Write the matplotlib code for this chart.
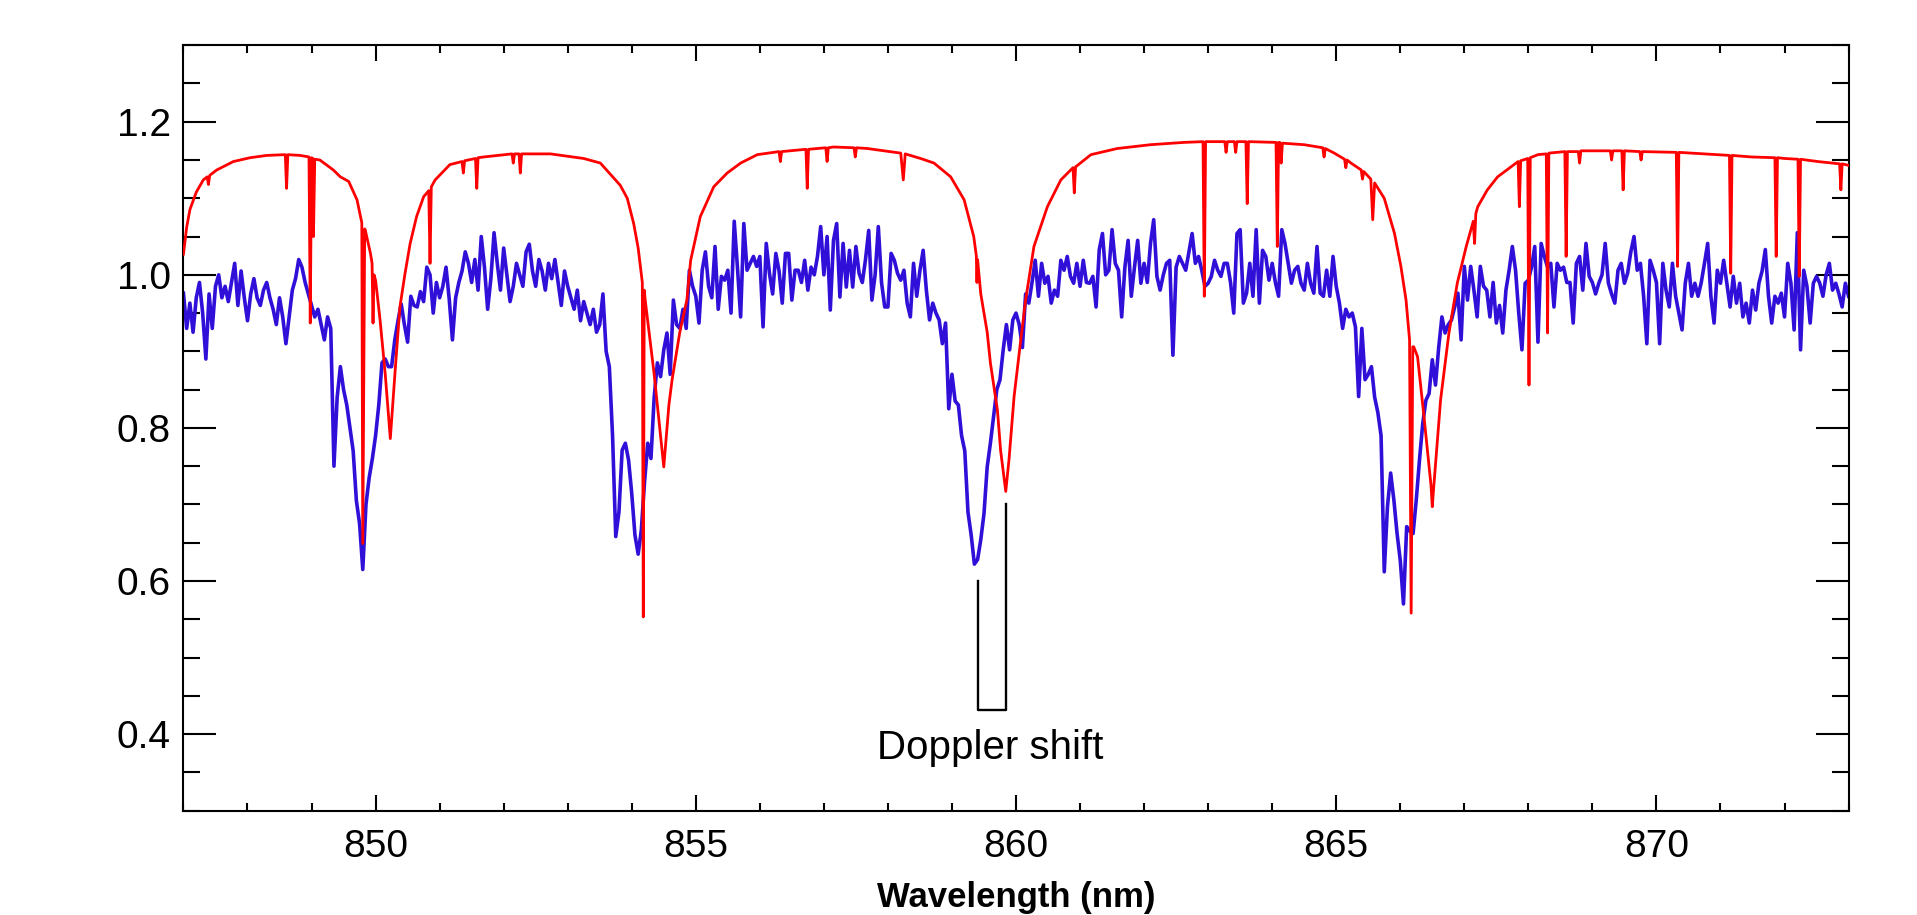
import numpy as np
import matplotlib
matplotlib.use("Agg")
import matplotlib.pyplot as plt
from matplotlib.ticker import MultipleLocator, FormatStrFormatter

# --- Observed spectrum (blue), sampled every 0.05 nm from 847.00 nm ---
blue_start = 847.0
blue_step = 0.05
blue_flux = [
    # 847
    0.976, 0.930, 0.963, 0.925, 0.970, 0.990, 0.950, 0.890, 0.975, 0.930,
    0.985, 1.000, 0.970, 0.985, 0.965, 0.990, 1.015, 0.960, 1.005, 0.970,
    # 848
    0.940, 0.975, 0.995, 0.970, 0.960, 0.980, 0.990, 0.970, 0.955, 0.935,
    0.970, 0.945, 0.910, 0.945, 0.980, 0.995, 1.020, 1.010, 0.990, 0.975,
    # 849
    0.960, 0.945, 0.955, 0.935, 0.915, 0.945, 0.930, 0.750, 0.840, 0.880,
    0.850, 0.830, 0.800, 0.770, 0.705, 0.675, 0.615, 0.700, 0.735, 0.760,
    # 850
    0.790, 0.830, 0.885, 0.890, 0.880, 0.880, 0.915, 0.940, 0.962, 0.935,
    0.912, 0.972, 0.960, 0.958, 0.978, 0.965, 1.010, 1.000, 0.950, 0.990,
    # 851
    0.970, 0.985, 1.010, 0.968, 0.915, 0.970, 0.990, 1.005, 1.030, 1.015,
    0.990, 1.020, 0.980, 1.050, 1.010, 0.955, 0.995, 1.055, 1.015, 0.980,
    # 852
    1.035, 1.000, 0.965, 0.985, 1.015, 1.000, 0.985, 1.030, 1.040, 1.005,
    0.985, 1.020, 1.005, 0.980, 1.015, 0.995, 1.020, 0.990, 0.960, 1.005,
    # 853
    0.985, 0.970, 0.955, 0.980, 0.940, 0.965, 0.950, 0.935, 0.955, 0.925,
    0.935, 0.975, 0.900, 0.880, 0.790, 0.658, 0.690, 0.771, 0.780, 0.758,
    # 854
    0.714, 0.660, 0.635, 0.667, 0.730, 0.780, 0.760, 0.840, 0.885, 0.867,
    0.902, 0.924, 0.870, 0.967, 0.935, 0.930, 0.955, 0.930, 1.006, 0.985,
    # 855
    0.972, 0.937, 1.006, 1.030, 0.985, 0.970, 1.037, 0.955, 0.998, 0.993,
    1.006, 0.950, 1.070, 1.010, 0.945, 1.067, 1.006, 1.015, 1.024, 1.011,
    # 856
    1.024, 0.932, 1.041, 1.002, 0.975, 1.028, 1.005, 0.963, 1.028, 1.028,
    0.967, 1.006, 1.006, 0.990, 1.019, 0.980, 1.010, 1.000, 1.024, 1.063,
    # 857
    1.000, 1.050, 0.954, 1.045, 1.067, 0.971, 1.041, 0.984, 1.032, 0.984,
    1.037, 1.002, 0.990, 1.020, 1.058, 0.967, 1.000, 1.063, 0.990, 0.958,
    # 858
    0.958, 1.028, 1.019, 1.002, 0.993, 1.006, 0.963, 0.945, 1.015, 0.972,
    1.006, 1.032, 0.980, 0.941, 0.963, 0.950, 0.941, 0.910, 0.937, 0.825,
    # 859
    0.870, 0.835, 0.830, 0.790, 0.770, 0.690, 0.660, 0.622, 0.628, 0.654,
    0.688, 0.749, 0.780, 0.815, 0.850, 0.863, 0.902, 0.935, 0.902, 0.941,
    # 860
    0.950, 0.935, 0.905, 0.975, 0.963, 0.990, 1.019, 0.972, 1.015, 0.989,
    0.998, 0.963, 0.980, 0.972, 1.019, 1.006, 1.024, 0.998, 0.989, 1.015,
    # 861
    0.985, 1.019, 0.990, 0.989, 0.998, 0.958, 1.033, 1.054, 1.000, 1.006,
    1.059, 1.015, 1.006, 0.945, 1.010, 1.045, 0.972, 1.010, 1.045, 0.989,
    # 862
    1.015, 0.990, 1.041, 1.072, 0.998, 0.980, 1.000, 1.015, 1.019, 0.895,
    1.010, 1.024, 1.015, 1.006, 1.030, 1.054, 1.015, 1.024, 1.006, 0.985,
    # 863
    0.989, 0.998, 1.019, 1.006, 0.998, 1.015, 1.015, 0.990, 0.950, 1.054,
    1.059, 0.963, 0.976, 1.015, 0.972, 1.059, 0.963, 1.032, 1.024, 0.993,
    # 864
    1.015, 0.990, 0.972, 1.059, 1.041, 1.015, 0.989, 1.006, 1.011, 0.989,
    0.980, 1.015, 0.989, 0.976, 1.037, 0.976, 0.972, 1.006, 0.972, 1.024,
    # 865
    0.985, 0.963, 0.930, 0.955, 0.945, 0.950, 0.932, 0.841, 0.930, 0.863,
    0.870, 0.880, 0.840, 0.820, 0.790, 0.612, 0.697, 0.741, 0.706, 0.662,
    # 866
    0.627, 0.570, 0.671, 0.665, 0.662, 0.706, 0.758, 0.805, 0.836, 0.845,
    0.889, 0.856, 0.905, 0.945, 0.924, 0.935, 0.941, 0.958, 0.976, 0.915,
    # 867
    1.011, 0.967, 1.011, 0.980, 0.945, 1.011, 0.985, 0.980, 0.945, 0.990,
    0.937, 0.960, 0.924, 0.980, 1.006, 1.037, 1.006, 0.950, 0.902, 0.989,
    # 868
    0.993, 1.010, 1.037, 0.912, 1.041, 1.024, 1.010, 1.015, 0.958, 1.015,
    1.006, 1.010, 0.990, 0.990, 0.937, 1.015, 1.024, 0.980, 1.041, 0.998,
    # 869
    0.990, 0.975, 0.989, 1.000, 1.041, 0.989, 0.975, 0.963, 1.006, 1.015,
    0.989, 1.002, 1.030, 1.050, 1.006, 1.015, 0.972, 0.910, 1.019, 1.006,
    # 870
    0.990, 0.910, 1.015, 0.980, 0.958, 1.015, 0.972, 0.950, 0.928, 0.989,
    1.015, 0.972, 0.989, 0.972, 0.990, 1.015, 1.041, 0.972, 0.937, 1.006,
    # 871
    0.989, 1.019, 0.989, 0.958, 0.998, 0.963, 0.989, 0.945, 0.963, 0.937,
    0.980, 0.954, 0.989, 1.005, 1.033, 0.972, 0.937, 0.972, 0.963, 0.976,
    # 872
    0.945, 1.015, 0.989, 0.928, 1.055, 0.902, 1.006, 0.985, 0.937, 0.989,
    0.998, 0.989, 0.972, 1.000, 1.015, 0.980, 0.989, 0.975, 0.958, 0.989,
    # 873
    0.972,
]

# --- Model spectrum (red): knots along the curve, incl. narrow lines ---
red_wave = [
    847.00, 847.05, 847.10, 847.20, 847.31, 847.37, 847.39, 847.41, 847.52, 847.78,
    848.04, 848.30, 848.59, 848.61, 848.63, 848.82, 848.96, 848.98, 849.00, 849.02,
    849.03, 849.05, 849.13, 849.34, 849.45, 849.58, 849.71, 849.785, 849.80, 849.83,
    849.84, 849.92, 849.945, 849.96, 849.975, 850.00, 850.07, 850.15, 850.23, 850.31,
    850.38, 850.46, 850.54, 850.64, 850.75, 850.83, 850.85, 850.87, 850.93, 851.16,
    851.35, 851.37, 851.39, 851.56, 851.58, 851.60, 851.69, 852.13, 852.15, 852.17,
    852.24, 852.26, 852.28, 852.73, 853.25, 853.51, 853.82, 853.93, 854.03, 854.10,
    854.165, 854.18, 854.195, 854.21, 854.35, 854.50, 854.58, 854.63, 854.75, 854.86,
    854.92, 855.07, 855.28, 855.49, 855.70, 855.96, 856.30, 856.32, 856.34, 856.72,
    856.74, 856.76, 857.03, 857.05, 857.07, 857.15, 857.47, 857.49, 857.51, 857.68,
    858.20, 858.24, 858.27, 858.51, 858.72, 858.98, 859.19, 859.34, 859.38, 859.39,
    859.40, 859.45, 859.55, 859.60, 859.71, 859.76, 859.84, 859.89, 859.97, 860.07,
    860.15, 860.28, 860.49, 860.70, 860.89, 860.91, 860.93, 861.17, 861.58, 862.10,
    862.62, 862.92, 862.94, 862.96, 863.26, 863.28, 863.30, 863.41, 863.43, 863.45,
    863.59, 863.61, 863.63, 864.06, 864.08, 864.10, 864.12, 864.14, 864.16, 864.50,
    864.79, 864.81, 864.83, 864.97, 865.13, 865.15, 865.17, 865.23, 865.39, 865.41,
    865.43, 865.54, 865.57, 865.60, 865.75, 865.91, 866.01, 866.09, 866.145, 866.17,
    866.195, 866.21, 866.27, 866.37, 866.48, 866.50, 866.52, 866.63, 866.76, 866.89,
    867.03, 867.14, 867.16, 867.18, 867.21, 867.36, 867.52, 867.84, 867.86, 867.88,
    867.99, 868.01, 868.03, 868.15, 868.28, 868.30, 868.32, 868.57, 868.59, 868.61,
    868.78, 868.80, 868.82, 869.13, 869.28, 869.30, 869.32, 869.46, 869.48, 869.50,
    869.74, 869.76, 869.78, 870.31, 870.33, 870.35, 870.96, 871.14, 871.16, 871.18,
    871.48, 871.85, 871.87, 871.89, 872.00, 872.21, 872.23, 872.25, 872.52, 872.86,
    872.88, 872.90, 873.00,
]
red_flux = [
    1.027, 1.062, 1.085, 1.108, 1.124, 1.128, 1.118, 1.130, 1.137, 1.148,
    1.153, 1.156, 1.157, 1.113, 1.157, 1.156, 1.154, 0.937, 1.153, 1.152,
    1.050, 1.151, 1.150, 1.137, 1.128, 1.122, 1.098, 1.068, 0.649, 1.060,
    1.058, 1.028, 1.015, 0.937, 1.000, 0.993, 0.941, 0.871, 0.786, 0.880,
    0.958, 1.002, 1.041, 1.076, 1.102, 1.110, 1.015, 1.115, 1.124, 1.144,
    1.148, 1.133, 1.149, 1.152, 1.113, 1.153, 1.154, 1.158, 1.146, 1.158,
    1.158, 1.133, 1.158, 1.158, 1.152, 1.146, 1.117, 1.100, 1.067, 1.035,
    0.990, 0.553, 0.980, 0.967, 0.870, 0.749, 0.830, 0.863, 0.925, 0.967,
    1.019, 1.076, 1.115, 1.133, 1.146, 1.157, 1.161, 1.148, 1.161, 1.164,
    1.113, 1.164, 1.166, 1.148, 1.166, 1.167, 1.166, 1.154, 1.166, 1.165,
    1.159, 1.124, 1.158, 1.152, 1.146, 1.128, 1.098, 1.050, 1.025, 0.990,
    1.020, 0.975, 0.925, 0.885, 0.823, 0.770, 0.717, 0.758, 0.841, 0.912,
    0.967, 1.037, 1.089, 1.124, 1.140, 1.107, 1.141, 1.157, 1.165, 1.170,
    1.173, 1.174, 0.972, 1.174, 1.174, 1.160, 1.174, 1.174, 1.160, 1.174,
    1.174, 1.093, 1.174, 1.173, 1.037, 1.173, 1.173, 1.146, 1.172, 1.170,
    1.166, 1.154, 1.165, 1.159, 1.151, 1.140, 1.150, 1.146, 1.137, 1.125,
    1.135, 1.125, 1.072, 1.120, 1.100, 1.054, 1.011, 0.967, 0.915, 0.558,
    0.906, 0.906, 0.893, 0.815, 0.725, 0.697, 0.720, 0.837, 0.924, 0.989,
    1.037, 1.070, 1.041, 1.080, 1.089, 1.111, 1.128, 1.148, 1.089, 1.149,
    1.152, 0.856, 1.153, 1.157, 1.158, 0.924, 1.159, 1.161, 1.024, 1.161,
    1.161, 1.146, 1.162, 1.162, 1.162, 1.150, 1.162, 1.162, 1.111, 1.162,
    1.161, 1.150, 1.161, 1.160, 1.011, 1.160, 1.157, 1.156, 1.002, 1.156,
    1.154, 1.153, 1.024, 1.153, 1.152, 1.151, 0.998, 1.151, 1.148, 1.145,
    1.111, 1.145, 1.143,
]

# --- Doppler shift marker (observed vs rest line centre) ---
doppler_obs = 859.40
doppler_rest = 859.85
doppler_obs_top = 0.60
doppler_rest_top = 0.70
doppler_base = 0.432
doppler_label = "Doppler shift"

blue_wave = blue_start + blue_step * np.arange(len(blue_flux))
assert len(red_wave) == len(red_flux)

plt.rcParams["font.family"] = ["Liberation Sans", "DejaVu Sans"]

fig = plt.figure(figsize=(19.17, 9.15), dpi=100)
ax = fig.add_axes([0.0957, 0.1141, 0.8686, 0.8365])

ax.plot(blue_wave, blue_flux, color="#3010d8", linewidth=2.6, zorder=2)
ax.plot(red_wave, red_flux, color="#ff0000", linewidth=2.0, zorder=3)

# bracket showing the shift
ax.plot([doppler_obs, doppler_obs, doppler_rest, doppler_rest],
        [doppler_obs_top, doppler_base, doppler_base, doppler_rest_top],
        color="black", linewidth=1.7, zorder=4)
ax.text((doppler_obs + doppler_rest) / 2 - 0.03, 0.382, doppler_label,
        ha="center", va="center", fontsize=29)

ax.set_xlim(847, 873)
ax.set_ylim(0.3, 1.3)
ax.xaxis.set_major_locator(MultipleLocator(5))
ax.xaxis.set_minor_locator(MultipleLocator(1))
ax.yaxis.set_major_locator(MultipleLocator(0.2))
ax.yaxis.set_minor_locator(MultipleLocator(0.05))
ax.yaxis.set_major_formatter(FormatStrFormatter("%.1f"))

ax.tick_params(which="both", direction="in", top=True, right=True, width=1.5, color="black")
ax.tick_params(axis="x", which="major", length=11.5, pad=13, labelsize=28)
ax.tick_params(axis="x", which="minor", length=5.5)
ax.tick_params(axis="y", which="major", length=24, pad=9, labelsize=28)
ax.tick_params(axis="y", which="minor", length=12)
for s in ax.spines.values():
    s.set_linewidth(1.5)

# axis title sits right at the bottom edge, as in the original
fig.text(0.530, 0.009, "Wavelength (nm)", ha="center", va="baseline",
         fontsize=25, fontweight="bold")

plt.savefig("out.png", dpi=100)
